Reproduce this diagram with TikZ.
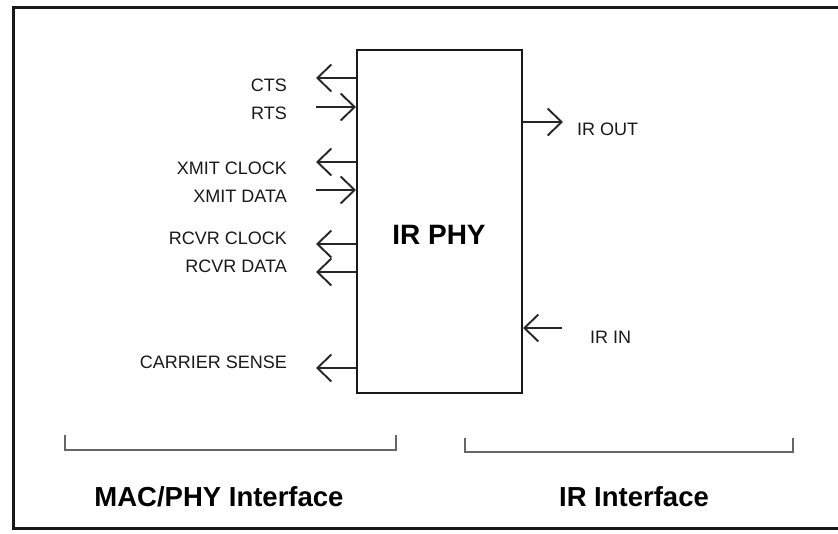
\documentclass[tikz,border=0pt]{standalone}
\usepackage{fontspec}
\setmainfont{Liberation Sans}
\usetikzlibrary{arrows.meta, positioning}

\begin{document}
\begin{tikzpicture}[
    x=1pt, y=-1pt,
    >={Straight Barb[length=14pt, width=27pt]},
    frame/.style={draw=black!90, line width=3pt},
    phy_box/.style={rectangle, draw=black!90, line width=2pt, minimum width=165pt, minimum height=343pt, inner sep=0pt},
    title/.style={font=\fontsize{28}{31}\selectfont\bfseries, inner sep=0pt},
    sig/.style={line width=1.9pt, draw=black!85},
    sig_label/.style={font=\fontsize{18}{21}\selectfont, inner sep=0pt, text=black!90},
    bracket/.style={draw=black!60, line width=1.4pt},
    group_label/.style={font=\fontsize{27.5}{31}\selectfont\bfseries, inner sep=0pt}
]

% --- Page and frame ---
\useasboundingbox (0,0) rectangle (838,533);
\draw[frame] (13,7) rectangle (860,528);

% --- PHY block ---
\node[phy_box] (phy) at (439.5,221.5) {};
\node[title] (phy_title) at (439,235) {IR PHY};

% --- MAC/PHY signals ---
% CTS / RTS
\coordinate (cts_end) at (316,78);
\draw[sig, ->] (phy.west |- cts_end) -- (cts_end);
\node[sig_label, left=29pt of cts_end, yshift=-7pt] (cts_label) {CTS};
\coordinate (rts_start) at (316,107);
\draw[sig, ->] (rts_start) -- (phy.west |- rts_start);
\node[sig_label, left=29pt of rts_start, yshift=-6pt] (rts_label) {RTS};

% XMIT
\coordinate (xclk_end) at (316,162);
\draw[sig, ->] (phy.west |- xclk_end) -- (xclk_end);
\node[sig_label, left=29pt of xclk_end, yshift=-6pt] (xclk_label) {XMIT CLOCK};
\coordinate (xdata_start) at (316,190);
\draw[sig, ->] (xdata_start) -- (phy.west |- xdata_start);
\node[sig_label, left=29pt of xdata_start, yshift=-6pt] (xdata_label) {XMIT DATA};

% RCVR
\coordinate (rclk_end) at (316,244);
\draw[sig, ->] (phy.west |- rclk_end) -- (rclk_end);
\node[sig_label, left=29pt of rclk_end, yshift=6pt] (rclk_label) {RCVR CLOCK};
\coordinate (rdata_end) at (316,272);
\draw[sig, ->] (phy.west |- rdata_end) -- (rdata_end);
\node[sig_label, left=29pt of rdata_end, yshift=6pt] (rdata_label) {RCVR DATA};

% Carrier sense
\coordinate (cs_end) at (316,368);
\draw[sig, ->] (phy.west |- cs_end) -- (cs_end);
\node[sig_label, left=29pt of cs_end, yshift=6pt] (cs_label) {CARRIER SENSE};

% --- IR signals ---
\coordinate (irout_end) at (563,122);
\draw[sig, ->] (phy.east |- irout_end) -- (irout_end);
\node[sig_label, right=14pt of irout_end, yshift=-7pt] (irout_label) {IR OUT};
\coordinate (irin_start) at (562,328);
\draw[sig, ->] (irin_start) -- (phy.east |- irin_start);
\node[sig_label, right=28pt of irin_start, yshift=-9pt] (irin_label) {IR IN};

% --- Interface brackets ---
\coordinate (mac_l) at (65,435);
\coordinate (mac_r) at (396,435);
\draw[bracket] (mac_l) -- ++(0,15) -| (mac_r);
\coordinate (ir_l) at (465,438);
\coordinate (ir_r) at (793,438);
\draw[bracket] (ir_l) -- ++(0,14) -| (ir_r);

\node[group_label] (mac_title) at (219,497) {MAC/PHY Interface};
\node[group_label] (ir_title) at (634,497) {IR Interface};

\end{tikzpicture}
\end{document}
